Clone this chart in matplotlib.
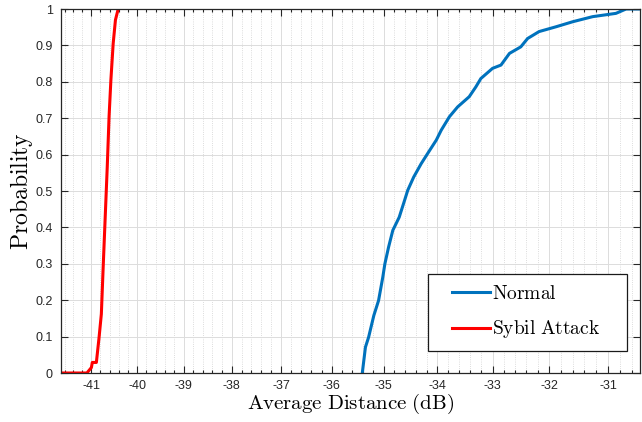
import matplotlib
matplotlib.use('Agg')
import matplotlib.pyplot as plt
import numpy as np
from matplotlib.legend_handler import HandlerLine2D
from matplotlib.ticker import FixedLocator

normal_x = [-35.41, -35.35, -35.29, -35.19, -35.10, -35.02, -34.98, -34.91, -34.83,
            -34.71, -34.61, -34.55, -34.44, -34.30, -34.18, -34.02, -33.93, -33.78,
            -33.63, -33.42, -33.30, -33.21, -33.00, -32.85, -32.70, -32.50, -32.38,
            -32.18, -31.89, -31.60, -31.26, -30.87, -30.70, -30.44]
normal_p = [0.0, 0.071, 0.098, 0.158, 0.199, 0.263, 0.300, 0.346, 0.392,
            0.428, 0.474, 0.502, 0.538, 0.575, 0.603, 0.640, 0.667, 0.704,
            0.731, 0.759, 0.786, 0.809, 0.837, 0.846, 0.878, 0.896, 0.919,
            0.938, 0.951, 0.965, 0.979, 0.988, 1.0, 1.0]

sybil_x = [-41.68, -41.10, -41.00, -40.98, -40.89, -40.83, -40.78, -40.74, -40.68,
           -40.65, -40.61, -40.57, -40.52, -40.47, -40.41]
sybil_p = [0.0, 0.0, 0.015, 0.029, 0.029, 0.098, 0.162, 0.29, 0.474,
           0.566, 0.704, 0.805, 0.905, 0.97, 1.0]

x_ticks = [-41, -40, -39, -38, -37, -36, -35, -34, -33, -32, -31]
x_ticklabels = ['-41', '-40', '-39', '-38', '-37', '-36', '-35', '-34', '-33', '-32', '-31']
y_ticks = [0, 0.1, 0.2, 0.3, 0.4, 0.5, 0.6, 0.7, 0.8, 0.9, 1.0]
y_ticklabels = ['0', '0.1', '0.2', '0.3', '0.4', '0.5', '0.6', '0.7', '0.8', '0.9', '1']

plt.rcParams['mathtext.fontset'] = 'cm'
plt.rcParams['axes.unicode_minus'] = False
plt.rcParams['font.family'] = ['Liberation Sans', 'DejaVu Sans']


# x axis is logarithmic in |x| (spacing grows towards -31)
def fwd(x):
    with np.errstate(invalid='ignore', divide='ignore'):
        return -np.log(-np.asarray(x, dtype=float))


def inv(y):
    return -np.exp(-np.asarray(y, dtype=float))


class ShiftedLine(HandlerLine2D):
    # push the legend line to the right, MATLAB style
    def create_artists(self, legend, orig_handle, xdescent, ydescent,
                       width, height, fontsize, trans):
        shift = 0.69 * fontsize
        return super().create_artists(legend, orig_handle, xdescent - shift, ydescent,
                                      width - shift, height, fontsize, trans)


fig = plt.figure(figsize=(6.42, 4.22), dpi=100)
ax = fig.add_axes([61 / 642, 49 / 422, 579 / 642, 364 / 422])
ax.set_xscale('function', functions=(fwd, inv))

dark = '#262626'
ax.plot(normal_x, normal_p, color='#0072BD', linewidth=2.2, label=r'$\mathrm{Normal}$')
ax.plot(sybil_x, sybil_p, color='#FF0000', linewidth=2.2, label=r'$\mathrm{Sybil\ Attack}$')

ax.set_xlim(-41.68, -30.47)
ax.set_ylim(0, 1)

ax.xaxis.set_major_locator(FixedLocator(x_ticks))
ax.set_xticklabels(x_ticklabels)
ax.xaxis.set_minor_locator(FixedLocator(np.arange(-41.6, -30.4, 0.2)))
ax.set_yticks(y_ticks)
ax.set_yticklabels(y_ticklabels)

ax.tick_params(which='both', direction='in', top=True, right=True,
               colors=dark, labelsize=9, width=0.8)
ax.tick_params(which='major', length=5, pad=6)
ax.tick_params(axis='x', which='major', pad=5)
ax.tick_params(which='minor', length=2.5)
ax.tick_params(axis='y', which='minor', left=False, right=False)
for s in ax.spines.values():
    s.set_color(dark)
    s.set_linewidth(0.9)

ax.grid(which='major', color='#dcdcdc', linewidth=0.7)
ax.grid(which='minor', axis='x', color='#d0d0d0', linestyle=':', linewidth=0.6)
ax.set_axisbelow(True)

ax.set_xlabel(r'$\mathrm{Average\ Distance\ (dB)}$', fontsize=15, labelpad=0)
ax.set_ylabel(r'$\mathrm{Probability}$', fontsize=17, labelpad=0)

leg = ax.legend(loc='lower left', bbox_to_anchor=(0.634, 0.0604, 0.3437, 0.2),
                mode='expand', borderaxespad=0,
                fontsize=14, fancybox=False, framealpha=1, edgecolor='#1a1a1a',
                borderpad=0.55, handlelength=2.65, handletextpad=0.1, labelspacing=0.8,
                handler_map={plt.Line2D: ShiftedLine()})
leg.get_frame().set_linewidth(0.9)

fig.savefig('out.png', dpi=100)
